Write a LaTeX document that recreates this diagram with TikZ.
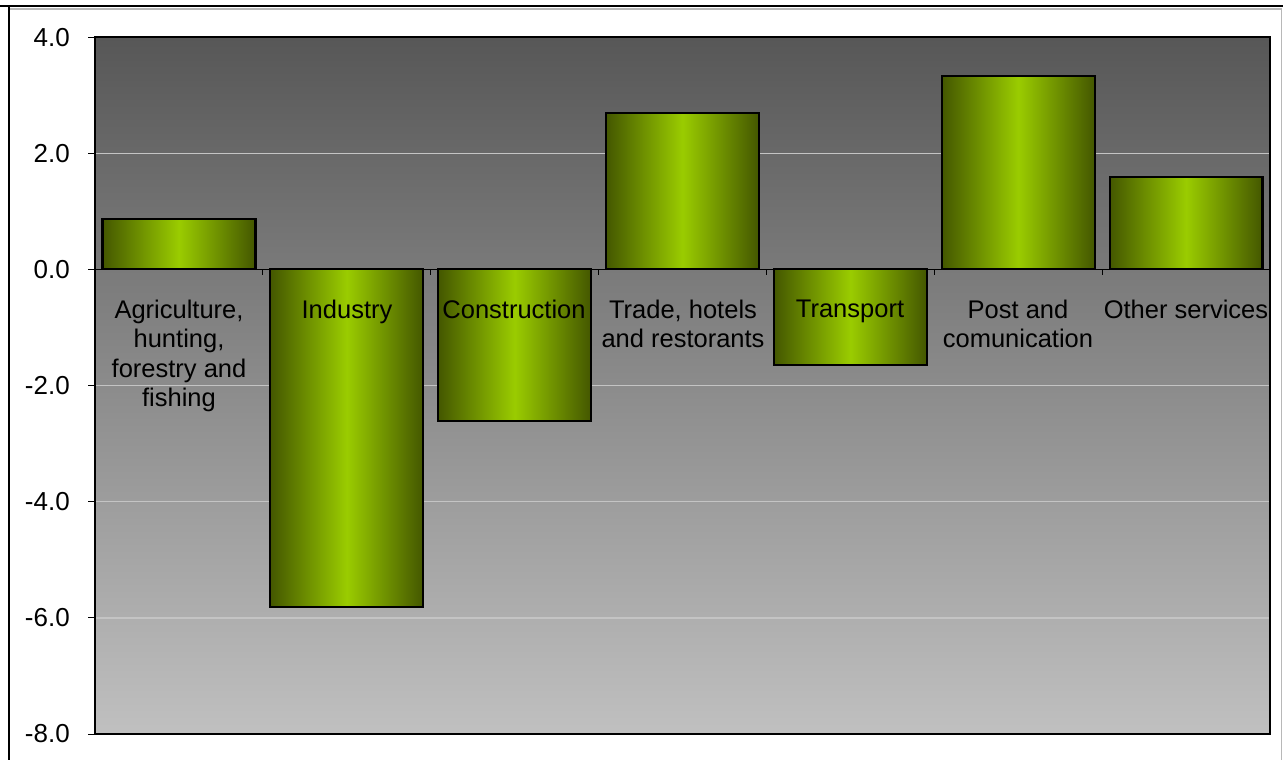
\documentclass[tikz,border=0pt]{standalone}
\usepackage{fontspec}
\setmainfont{Liberation Sans}
\begin{document}
\begin{tikzpicture}[x=1pt,y=1pt,
  barbox/.style={draw=black,line width=2.2pt,left color=bardark,right color=bardark,middle color=barlight},
  catlabel/.style={anchor=north,inner sep=0pt,align=center,font=\fontsize{25.5}{29.3}\selectfont},
  ticklabel/.style={anchor=east,inner sep=0pt,font=\fontsize{26}{30}\selectfont},
  gridline/.style={draw=gridgray,line width=1.4pt},
  tickmark/.style={draw=black,line width=1pt}]
\definecolor{bardark}{HTML}{445700}
\definecolor{barlight}{HTML}{9ACC00}
\definecolor{bgtop}{HTML}{575757}
\definecolor{bgbottom}{HTML}{C0C0C0}
\definecolor{gridgray}{HTML}{C4C4C4}
\definecolor{framegray}{HTML}{B8B8B8}
\useasboundingbox (0,0) rectangle (1283,760);
\fill[white] (0,0) rectangle (1283,760);
% outer frame
\draw[framegray,line width=1.2pt] (9,751) -- (1281.5,751) -- (1281.5,0);
\draw[black,line width=2.6pt] (0,754) -- (1283,754);
\draw[black,line width=2pt] (9,753) -- (9,0);
% plot area background
\shade[top color=bgtop,bottom color=bgbottom] (95,26) rectangle (1270,723);
\begin{scope}[shift={(0,490.6)},y=58.08pt]
  % gridlines
  \foreach \v in {2,-2,-4,-6} \draw[gridline] (95,\v) -- (1270,\v);
  % y ticks and labels
  \foreach \v/\t in {4/4.0,2/2.0,0/0.0,-2/-2.0,-4/-4.0,-6/-6.0,-8/-8.0} {
    \draw[tickmark] (88,\v) -- (95,\v);
    \node[ticklabel] (yl\v) at (70,\v) {\t};
  }
  % bars
  \foreach \i/\val in {0/0.87,1/-5.81,2/-2.61,3/2.69,4/-1.64,5/3.33,6/1.59} {
    \pgfmathsetmacro{\xl}{95+167.86*\i+7.5}
    \pgfmathsetmacro{\xr}{95+167.86*\i+160.4}
    \path[barbox] (\xl,0) rectangle (\xr,\val);
  }
  % zero axis and x ticks
  \draw[black,line width=1.4pt] (95,0) -- (1270,0);
  \foreach \i in {1,...,6} \draw[tickmark] ({95+167.86*\i},0) -- ({95+167.86*\i},-0.1);
  % category labels
  \node[catlabel] (c0) at (179,-0.525) {Agriculture,\\hunting,\\forestry and\\fishing};
  \node[catlabel] (c1) at (347,-0.525) {Industry};
  \node[catlabel] (c2) at (514,-0.525) {Construction};
  \node[catlabel] (c3) at (683,-0.525) {Trade, hotels\\and restorants};
  \node[catlabel] (c4) at (850,-0.525) {Transport};
  \node[catlabel] (c5) at (1018,-0.525) {Post and\\comunication};
  \node[catlabel] (c6) at (1186,-0.525) {Other services};
\end{scope}
% plot border
\draw[black,line width=2pt] (95,26) rectangle (1270,723);
\end{tikzpicture}
\end{document}
